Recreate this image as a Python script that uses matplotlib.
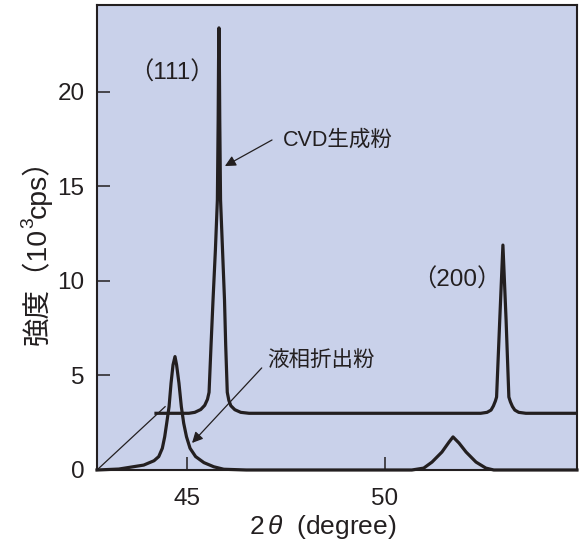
import matplotlib
matplotlib.use("Agg")
import matplotlib.pyplot as plt
from matplotlib.transforms import offset_copy

plt.rcParams['font.family'] = ['Liberation Sans', 'Noto Sans CJK JP', 'DejaVu Sans']
plt.rcParams['mathtext.fontset'] = 'custom'
plt.rcParams['mathtext.rm'] = 'Liberation Sans'
plt.rcParams['mathtext.sf'] = 'Liberation Sans'
plt.rcParams['mathtext.it'] = 'Liberation Sans:italic'

# ---- data (2theta in degrees, intensity in 10^3 cps) ----
liquid_x = [42.73, 43.28, 43.91, 44.17, 44.29, 44.38, 44.44, 44.49, 44.55, 44.60, 44.65,
            44.70, 44.74, 44.80, 44.86, 44.92, 44.99, 45.08, 45.22, 45.43, 45.68, 45.93,
            46.50, 50.68, 50.98, 51.19, 51.44, 51.62, 51.72, 51.87, 52.05, 52.30, 52.55,
            52.75, 54.85]
liquid_y = [0.00, 0.05, 0.26, 0.49, 0.71, 1.15, 1.76, 2.47, 3.35, 4.59, 5.56,
            6.00, 5.56, 4.59, 3.35, 2.47, 1.76, 1.15, 0.71, 0.39, 0.17, 0.04,
            0.00, 0.00, 0.10, 0.42, 0.95, 1.48, 1.75, 1.43, 0.95, 0.42, 0.10,
            0.00, 0.00]

cvd_x = [44.22, 45.05, 45.20, 45.35, 45.45, 45.52, 45.56, 45.61, 45.66, 45.72, 45.77,
         45.79, 45.80, 45.81, 45.82, 45.83, 45.85, 45.90, 45.95, 45.98, 46.02, 46.06,
         46.11, 46.21, 46.36, 46.57,
         52.42, 52.58, 52.68, 52.74, 52.79, 52.82, 52.90, 52.98, 53.06, 53.13, 53.17,
         53.22, 53.28, 53.38, 53.56, 54.85]
cvd_y = [3.00, 3.00, 3.05, 3.20, 3.42, 3.74, 4.11, 6.61, 8.99, 11.64, 14.29,
         18.52, 21.69, 23.39, 21.69, 18.52, 14.29, 11.64, 8.99, 6.61, 4.11, 3.68,
         3.40, 3.19, 3.05, 3.00,
         3.00, 3.05, 3.17, 3.39, 3.65, 3.86, 7.94, 11.90, 7.94, 3.86, 3.60,
         3.36, 3.17, 3.05, 3.00, 3.00]

x_ticks = [45, 50]
y_ticks = [0, 5, 10, 15, 20]
x_range = (42.73, 54.85)
y_range = (0, 24.6)

peak_labels = ['（111）', '（200）']
peak_label_pos = [(44.62, 21.0), (51.82, 10.05)]
sample_labels = ['CVD生成粉', '液相折出粉']
sample_label_pos = [(47.42, 17.46), (47.02, 5.77)]
arrow_tails = [(47.15, 17.46), (46.89, 5.40)]
arrow_heads = [(45.96, 16.08), (45.13, 1.43)]
shift_line_x = [42.73, 44.45]
shift_line_y = [0.0, 3.35]

x_label = r'$\mathsf{2}\,\mathit{\theta}\ \ \mathsf{(degree)}$'
y_label_parts = ['強度（10', '3', 'cps）']   # middle part is a superscript

ink = '#231f20'
bg = '#c9d1ea'

fig = plt.figure(figsize=(5.79, 5.46), dpi=100)
ax = fig.add_axes([0.1675, 0.1392, 0.829, 0.8516])
ax.set_facecolor(bg)

ax.plot(liquid_x, liquid_y, color=ink, lw=2.3, solid_joinstyle='round', clip_on=False, zorder=3)
ax.plot(cvd_x, cvd_y, color=ink, lw=2.3, solid_joinstyle='round', zorder=3)
ax.plot(shift_line_x, shift_line_y, color=ink, lw=0.9, zorder=2)

for tail, head in zip(arrow_tails, arrow_heads):
    ax.annotate('', xy=head, xytext=tail,
                arrowprops=dict(arrowstyle='-|>', color=ink, lw=0.9,
                                mutation_scale=16, shrinkA=0, shrinkB=0))

for lab, (x, y) in zip(peak_labels, peak_label_pos):
    ax.text(x, y, lab, ha='center', va='center', fontsize=17.5, color=ink)
for lab, (x, y) in zip(sample_labels, sample_label_pos):
    ax.text(x, y, lab, ha='left', va='center', fontsize=15.5, color=ink)

ax.set_xlim(*x_range)
ax.set_ylim(*y_range)
ax.set_xticks(x_ticks)
ax.set_yticks(y_ticks)
ax.tick_params(direction='in', length=9.5, width=1.1, color=ink, labelsize=17.5,
               labelcolor=ink)
ax.tick_params(axis='x', pad=13)
ax.tick_params(axis='y', pad=9)
for s in ax.spines.values():
    s.set_color(ink)
    s.set_linewidth(1.5)

fig.text(0.557, 0.034, x_label, ha='center', va='center', fontsize=19, color=ink)

# y label built from pieces (vertical, reading bottom to top) with a real superscript
fs = 20.5
sizes = [fs, fs * 0.68, fs]
raises = [0, fs * 0.42 * 100 / 72, 0]   # px, towards glyph tops (leftwards)
base_x, center_y = 0.079, 0.551
pieces = [fig.text(base_x, center_y, p, rotation=90, rotation_mode='anchor',
                   ha='left', va='baseline', fontsize=sz, color=ink)
          for p, sz in zip(y_label_parts, sizes)]
fig.canvas.draw()
renderer = fig.canvas.get_renderer()
lengths = [t.get_window_extent(renderer).height for t in pieces]
total = sum(lengths)
offset = -total / 2
for t, L, r in zip(pieces, lengths, raises):
    t.set_transform(offset_copy(fig.transFigure, fig=fig, x=-r, y=offset, units='dots'))
    offset += L

fig.savefig('out.png', dpi=100, facecolor='white')
